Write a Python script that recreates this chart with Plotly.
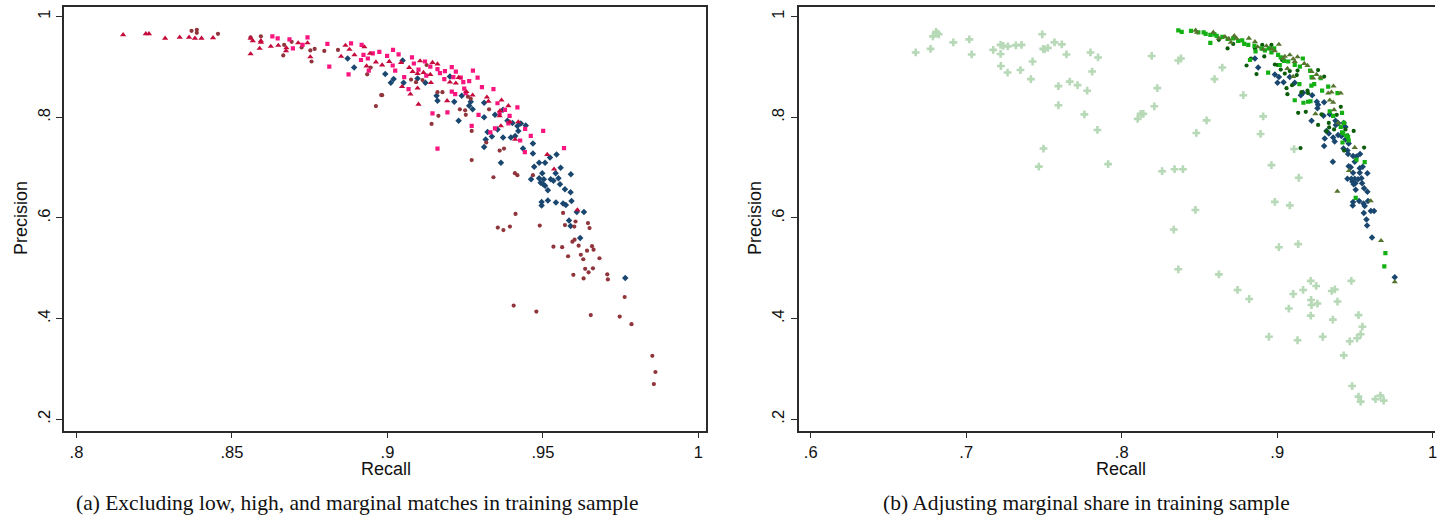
import plotly.graph_objects as go

# ---------------- data: (recall, precision) ----------------
# Panel (a)
a_navy_diamond = [
    (.8872,.917),(.8893,.899),(.8993,.886),(.9011,.869),(.9020,.876),(.9052,.869),(.9049,.913),
    (.9097,.877),(.9122,.869),(.9158,.843),(.9161,.833),(.9201,.881),(.9215,.831),(.9239,.843),
    (.9263,.823),(.9268,.831),(.9274,.816),(.9229,.793),(.9311,.829),(.9311,.800),(.9346,.805),
    (.9372,.815),(.9386,.793),(.9402,.789),(.9418,.783),(.9429,.788),(.9445,.784),(.9421,.773),
    (.9411,.763),(.9397,.760),(.9372,.760),(.9354,.776),(.9322,.771),(.9336,.762),(.9316,.756),
    (.9311,.741),(.9365,.710),(.9436,.738),(.9468,.728),(.9468,.748),(.9488,.710),(.9507,.710),
    (.9472,.702),(.9523,.720),(.9544,.726),(.9557,.700),(.9498,.689),(.9541,.689),(.9590,.687),
    (.9462,.677),(.9488,.679),(.9503,.677),(.9525,.677),(.9534,.674),(.9550,.679),(.9493,.670),
    (.9501,.667),(.9507,.664),(.9555,.667),(.9516,.655),(.9571,.657),(.9589,.651),(.9496,.632),
    (.9496,.625),(.9516,.635),(.9542,.631),(.9565,.629),(.9574,.626),(.9592,.634),(.9632,.612),
    (.9609,.612),(.9584,.595),(.9589,.584),(.9620,.560),(.9765,.481),
]
a_maroon_circle = [
    (.837,.972),(.8387,.974),(.8387,.968),(.8455,.966),(.856,.959),(.8593,.961),(.8665,.923),
    (.8668,.944),(.8692,.950),(.8724,.939),(.8752,.933),(.8756,.911),(.8766,.936),(.8797,.932),
    (.8841,.934),(.8935,.8855),(.8963,.8225),(.898,.8443),(.8946,.899),(.8983,.844),(.9126,.904),
    (.9076,.875),(.9092,.870),(.9113,.874),(.9161,.850),(.9177,.850),(.9259,.841),(.9268,.837),
    (.9164,.803),(.9142,.787),(.9233,.816),(.9250,.814),(.9252,.805),(.9327,.816),(.9271,.773),
    (.9318,.750),(.9361,.734),(.9375,.738),(.9271,.715),(.9341,.681),(.9410,.689),(.9418,.685),
    (.9468,.685),(.9412,.608),(.9565,.610),(.9355,.581),(.9373,.576),(.9394,.583),(.9490,.585),
    (.9571,.586),(.9601,.583),(.9605,.593),(.9645,.590),(.9650,.580),(.9595,.553),(.9602,.557),
    (.9615,.545),(.9534,.543),(.9562,.542),(.9658,.544),(.9663,.537),(.9642,.535),(.9581,.524),
    (.9622,.527),(.9630,.518),(.9682,.520),(.9636,.499),(.9647,.492),(.9661,.500),(.9598,.487),
    (.9631,.480),(.9707,.488),(.9709,.478),(.9406,.426),(.9479,.414),(.9654,.407),(.9747,.404),
    (.9763,.443),(.9785,.389),(.9852,.326),(.9862,.294),(.9857,.270),
]
a_pink_square = [
    (.863,.961),(.8647,.957),(.8685,.955),(.8696,.937),(.8743,.959),(.8727,.944),(.8807,.946),
    (.8813,.901),(.8883,.947),(.8875,.8855),(.8917,.944),(.8915,.914),(.894,.893),(.8923,.924),
    (.8937,.917),(.8953,.927),(.9018,.934),(.8974,.930),(.8999,.922),(.9036,.925),(.9017,.903),
    (.9025,.893),(.9079,.919),(.9054,.880),(.9068,.856),(.9085,.907),(.9100,.895),(.9121,.911),
    (.9125,.883),(.9138,.901),(.9161,.896),(.9169,.888),(.9183,.876),(.9185,.892),(.9207,.900),
    (.9212,.880),(.9220,.891),(.9236,.879),(.9244,.870),(.9263,.872),(.9275,.893),(.9290,.879),
    (.9304,.860),(.9341,.856),(.9207,.851),(.9218,.846),(.9247,.857),(.9252,.848),(.9145,.808),
    (.9193,.810),(.9293,.805),(.9271,.783),(.9161,.738),(.9393,.803),(.9418,.820),(.9378,.815),
    (.9354,.828),(.9361,.809),(.9346,.778),(.9331,.770),(.9389,.788),(.9443,.777),(.9461,.763),
    (.9501,.773),(.9442,.731),(.9568,.739),(.9427,.754),
]
a_red_triangle = [
    (.815,.964),(.8223,.966),(.8233,.966),(.8285,.957),(.8332,.959),(.8362,.959),(.8381,.957),
    (.8402,.957),(.8439,.958),(.856,.957),(.8567,.952),(.856,.926),(.8589,.937),(.8593,.949),
    (.8593,.952),(.8625,.941),(.8649,.943),(.8674,.932),(.8675,.938),(.8713,.948),(.8743,.948),
    (.8752,.920),(.8865,.943),(.8878,.935),(.8851,.921),(.8926,.940),(.8963,.910),(.8933,.902),
    (.8894,.924),(.8944,.927),(.9145,.909),(.9161,.906),(.9105,.912),(.8983,.904),(.9006,.911),
    (.9044,.909),(.9070,.899),(.9081,.891),(.9097,.887),(.9116,.889),(.9138,.885),(.9140,.869),
    (.9047,.861),(.9074,.846),(.9097,.858),(.9100,.826),(.9201,.870),(.9229,.879),(.9220,.868),
    (.9254,.851),(.9274,.844),(.9192,.833),(.9320,.840),(.9325,.832),(.9367,.834),(.9389,.823),
    (.9361,.803),(.9362,.813),(.9365,.783),(.9394,.791),(.9421,.791),(.9411,.756),(.9514,.726),
    (.9536,.697),(.9611,.616),
]

# Panel (b)
b_light_cross = [
    (.6675,.929),(.6771,.936),(.6786,.961),(.6806,.970),(.6823,.965),(.6812,.967),(.6917,.949),
    (.7020,.955),(.7035,.925),(.7174,.934),(.7221,.944),(.7238,.942),(.7268,.941),(.7221,.926),
    (.7319,.943),(.7356,.944),(.7223,.902),(.7266,.889),(.7349,.894),(.7427,.911),(.7416,.876),
    (.7489,.965),(.7495,.936),(.7504,.935),(.7525,.938),(.7568,.949),(.7615,.945),(.7645,.925),
    (.7593,.862),(.7666,.871),(.7716,.864),(.7778,.853),(.7593,.824),(.7760,.806),(.7799,.929),
    (.7848,.919),(.7810,.891),(.7844,.775),(.7497,.738),(.7467,.702),(.7913,.707),
    (.8193,.922),(.8364,.913),(.8381,.917),(.8647,.899),(.8597,.876),(.8229,.858),(.8782,.844),
    (.8210,.822),(.8122,.807),(.8139,.807),(.8103,.797),(.8546,.794),(.8910,.802),(.8480,.769),
    (.8893,.767),(.9109,.737),(.826,.693),(.834,.697),(.8394,.697),(.8335,.577),(.8364,.498),
    (.8474,.616),(.8963,.705),(.9139,.680),(.8985,.632),(.9081,.625),(.9011,.542),(.9135,.548),
    (.8625,.488),(.8745,.457),(.8820,.439),(.8947,.364),(.9075,.420),(.9103,.449),(.9131,.357),
    (.9167,.457),(.9216,.475),(.9251,.465),(.9218,.437),(.9221,.427),(.9259,.430),(.9216,.406),
    (.9293,.364),(.9351,.455),(.9371,.458),(.9388,.434),(.9358,.398),(.9477,.475),(.9523,.407),
    (.9548,.384),(.9537,.369),(.9514,.361),(.9467,.355),(.9428,.327),(.9482,.266),(.9523,.245),
    (.9537,.235),(.9632,.240),(.9664,.247),(.9685,.237),
]
b_navy_diamond = [
    (.8857,.917),(.8878,.899),(.8985,.885),(.9011,.880),(.9038,.915),(.9081,.880),
    (.9002,.869),(.9041,.870),(.9113,.869),(.9152,.844),(.9167,.849),(.9225,.844),(.9255,.831),
    (.9263,.825),(.9259,.818),(.9302,.830),(.9298,.803),(.9338,.806),(.9221,.793),(.9375,.793),
    (.9392,.789),(.9377,.785),(.9428,.789),(.9439,.781),(.9317,.773),(.9332,.768),(.9306,.758),
    (.9302,.743),(.9360,.760),(.9370,.752),(.9392,.765),(.9413,.763),(.9439,.756),(.9460,.748),
    (.9426,.738),(.9452,.734),(.9456,.727),(.9488,.723),(.9499,.712),(.9510,.722),(.9533,.727),
    (.9358,.712),(.9460,.703),(.9473,.701),(.9531,.699),(.9550,.702),(.9488,.690),(.9531,.690),
    (.9580,.689),(.9452,.678),(.9477,.678),(.9499,.678),(.9520,.677),(.9542,.679),(.9484,.672),
    (.9492,.667),(.9503,.669),(.9546,.669),(.9559,.659),(.9580,.652),(.9505,.656),(.9488,.632),
    (.9486,.625),(.9527,.634),(.9555,.629),(.9563,.624),(.9584,.634),(.9557,.610),(.9602,.614),
    (.9623,.614),(.9574,.597),(.9578,.585),(.9610,.561),(.9756,.482),
]
b_dkgreen_circle = [
    (.8625,.954),(.8681,.937),(.8717,.946),(.8803,.903),(.8867,.886),(.8831,.917),(.8904,.944),
    (.8917,.921),(.8963,.944),(.9002,.904),(.9023,.895),(.8985,.905),(.9049,.887),(.9081,.892),
    (.9131,.893),(.9263,.894),(.9302,.881),(.9126,.884),(.9032,.914),(.8857,.937),
    (.9060,.858),(.9066,.846),(.9096,.864),(.9156,.850),(.9195,.853),(.9199,.848),(.9135,.809),
    (.9184,.811),(.9263,.785),(.9285,.806),(.9317,.772),(.9334,.780),(.9409,.821),(.9383,.805),
    (.9366,.776),(.9452,.764),(.9492,.773),(.9430,.734),(.9559,.740),(.9150,.739),(.9332,.789),
    (.9439,.776),
]
b_green_square = [
    (.8364,.973),(.8386,.970),(.8446,.972),(.8493,.969),(.8527,.969),(.8540,.966),(.8570,.964),
    (.8596,.965),(.8570,.948),(.8611,.962),(.8647,.960),(.8681,.956),(.8717,.957),(.8749,.952),
    (.8775,.953),(.8788,.946),(.8814,.944),(.8854,.942),(.8861,.931),(.8899,.937),(.8921,.933),
    (.8946,.937),(.8963,.929),(.8981,.937),(.9006,.924),(.9023,.919),(.9045,.912),(.9071,.911),
    (.9113,.904),(.9165,.917),(.9146,.901),(.9212,.893),(.9221,.880),(.9280,.878),(.8942,.889),
    (.9017,.904),(.8825,.914),
    (.9143,.866),(.9113,.834),(.9169,.829),(.9199,.831),(.9214,.832),(.9220,.863),(.9238,.866),
    (.9289,.853),(.9328,.861),(.9388,.848),(.9338,.812),(.9360,.803),(.9417,.809),(.9430,.789),
    (.9409,.781),(.9417,.770),(.9424,.768),(.9445,.763),(.9420,.750),(.9460,.754),(.9456,.761),
    (.9510,.716),(.9563,.711),(.9505,.640),(.9696,.530),(.9689,.504),
]
b_olive_triangle = [
    (.8475,.973),(.8484,.969),(.8589,.969),(.8625,.957),(.8664,.960),(.8689,.956),(.8724,.962),
    (.8738,.957),(.8702,.949),(.8818,.957),(.8857,.950),(.8874,.940),(.8910,.935),(.8931,.942),
    (.8963,.936),(.9011,.945),(.8985,.932),(.9038,.917),(.9049,.921),(.9081,.924),(.9103,.916),
    (.9113,.911),(.9131,.920),(.9174,.907),(.9195,.903),(.9221,.891),(.9253,.885),(.9231,.878),
    (.9280,.879),(.9103,.881),(.9066,.897),
    (.9338,.834),(.9360,.830),(.9328,.848),(.9349,.850),(.9409,.848),(.9362,.862),(.9246,.807),
    (.9366,.815),(.9392,.789),(.9499,.740),(.9462,.694),(.9387,.653),(.9602,.634),(.9668,.555),
    (.9756,.473),
]

a_xticks = [0.8, 0.85, 0.9, 0.95, 1.0]
a_xlabels = [".8", ".85", ".9", ".95", "1"]
b_xticks = [0.6, 0.7, 0.8, 0.9, 1.0]
b_xlabels = [".6", ".7", ".8", ".9", "1"]
yticks = [0.2, 0.4, 0.6, 0.8, 1.0]
ylabels = [".2", ".4", ".6", ".8", "1"]
caption_a = "(a) Excluding low, high, and marginal matches in training sample"
caption_b = "(b) Adjusting marginal share in training sample"

# ---------------- figure ----------------
W, H = 1437, 518
fig = go.Figure()

def add(points, xa, ya, symbol, color, size):
    fig.add_trace(go.Scatter(
        x=[p[0] for p in points], y=[p[1] for p in points], mode="markers",
        xaxis=xa, yaxis=ya, showlegend=False, hoverinfo="skip",
        marker=dict(symbol=symbol, color=color, size=size, line=dict(width=0)),
    ))

add(a_navy_diamond, "x", "y", "diamond", "#1A476F", 5)
add(a_maroon_circle, "x", "y", "circle", "#90353B", 4.2)
add(a_pink_square, "x", "y", "square", "#F8157F", 4.2)
add(a_red_triangle, "x", "y", "triangle-up", "#C50B3C", 5.5)

add(b_light_cross, "x2", "y2", "cross", "#B7D9B7", 6.5)
add(b_navy_diamond, "x2", "y2", "diamond", "#1A476F", 5)
add(b_dkgreen_circle, "x2", "y2", "circle", "#0A5C0A", 4.2)
add(b_green_square, "x2", "y2", "square", "#12B012", 4.2)
add(b_olive_triangle, "x2", "y2", "triangle-up", "#55752F", 5.5)

LINE = "#2b2b2b"
tickfont = dict(family="Liberation Sans, Arial, sans-serif", size=16.5, color="#111111")
common = dict(showline=True, linecolor=LINE, linewidth=1.5, ticks="outside", ticklen=6,
              tickwidth=1.2, tickcolor=LINE, showgrid=False, zeroline=False,
              tickfont=tickfont, tickmode="array", ticklabeloverflow="allow")

ydom = [1 - 430.7 / H, 1 - 7.3 / H]
fig.update_layout(
    width=W, height=H, margin=dict(l=0, r=0, t=0, b=0),
    paper_bgcolor="white", plot_bgcolor="white",
    xaxis=dict(domain=[64.3 / W, 706.7 / W], range=[0.79605, 1.00237], anchor="y",
               tickvals=a_xticks, ticktext=a_xlabels, mirror=True, **common),
    yaxis=dict(domain=ydom, range=[0.1773, 1.0187], anchor="x", tickangle=-90,
               tickvals=yticks, ticktext=ylabels, mirror=True, **common),
    xaxis2=dict(domain=[799.7 / W, 1.0], range=[0.5922, 1.0015], anchor="y2",
                tickvals=b_xticks, ticktext=b_xlabels, mirror=True, **common),
    yaxis2=dict(domain=ydom, range=[0.1773, 1.0187], anchor="x2", tickangle=-90,
                tickvals=yticks, ticktext=ylabels, mirror=False, **common),
)

title_font = dict(family="Liberation Sans, Arial, sans-serif", size=18, color="#111111")
cap_font = dict(family="Liberation Serif, Times New Roman, serif", size=21.5, color="#111111")
ann = [
    dict(text="Recall", x=387 / W, y=1 - 469 / H, font=title_font, textangle=0),
    dict(text="Recall", x=1123 / W, y=1 - 469 / H, font=title_font, textangle=0),
    dict(text="Precision", x=21 / W, y=1 - 218 / H, font=title_font, textangle=-90),
    dict(text="Precision", x=756 / W, y=1 - 218 / H, font=title_font, textangle=-90),
    dict(text=caption_a, x=357 / W, y=1 - 503 / H, font=cap_font, textangle=0),
    dict(text=caption_b, x=1088.5 / W, y=1 - 503 / H, font=cap_font, textangle=0),
]
for a in ann:
    fig.add_annotation(xref="paper", yref="paper", xanchor="center", yanchor="middle",
                       showarrow=False, **a)

fig.write_html(
    "out.html",
    config={"displayModeBar": False},
    post_script="document.body.style.margin='0';document.body.style.overflow='hidden';",
)
